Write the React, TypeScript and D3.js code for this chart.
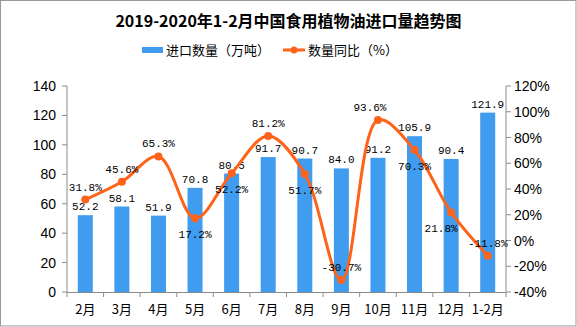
import React from "react";
import * as d3 from "d3";

const categories = ["2月", "3月", "4月", "5月", "6月", "7月", "8月", "9月", "10月", "11月", "12月", "1-2月"];
const importVolume = [52.2, 58.1, 51.9, 70.8, 80.5, 91.7, 90.7, 84.0, 91.2, 105.9, 90.4, 121.9];
const yoyGrowth = [31.8, 45.6, 65.3, 17.2, 52.2, 81.2, 51.7, -30.7, 93.6, 70.3, 21.8, -11.8];
const leftTicks = [0, 20, 40, 60, 80, 100, 120, 140];
const rightTicks = [-40, -20, 0, 20, 40, 60, 80, 100, 120];
const growthLabelSide = ["up", "up", "up", "down", "down", "up", "down", "up", "up", "down", "down", "up"];

const W = 577;
const H = 327;
const left = 67;
const right = 506;
const top = 86;
const bottom = 292;
const BLUE = "#3F9CEE";
const ORANGE = "#FF6219";
const AXIS = "#8c8c8c";
const LABEL_FONT = "'Liberation Mono', 'DejaVu Sans Mono', monospace";
const CJK = "'Noto Sans CJK SC', sans-serif";

export default function App() {
  const x = d3.scaleBand<string>().domain(categories).range([left, right]).paddingInner(0.59).paddingOuter(0.295);
  const step = (right - left) / categories.length;
  const yL = d3.scaleLinear().domain([0, 140]).range([bottom, top]);
  const yR = d3.scaleLinear().domain([-40, 120]).range([bottom, top]);
  const cx = (c: string) => (x(c) as number) + x.bandwidth() / 2;
  const pts: [number, number][] = categories.map((c, i) => [cx(c), yR(yoyGrowth[i])]);
  const line = d3.line().curve(d3.curveCatmullRom.alpha(0.5))(pts) as string;

  return (
    <div style={{ position: "fixed", left: 0, top: 0 }}>
      <svg width={W} height={H} style={{ display: "block", background: "#fff" }}>
        <rect x={0.5} y={0.5} width={W - 1.5} height={H - 1.5} fill="#fff" stroke="#999" />
        <text x={W / 2} y={27} textAnchor="middle" fontFamily={CJK} fontWeight="bold" fontSize={16} fill="#000">
          2019-2020年1-2月中国食用植物油进口量趋势图
        </text>
        {/* legend */}
        <rect x={142} y={47} width={21} height={6} fill={BLUE} />
        <text x={166} y={55} fontFamily={CJK} fontSize={13} fill="#000">进口数量（万吨）</text>
        <line x1={283} x2={305} y1={50} y2={50} stroke={ORANGE} strokeWidth={3} />
        <circle cx={294} cy={50} r={3.5} fill={ORANGE} />
        <text x={308} y={55} fontFamily={CJK} fontSize={13} fill="#000">数量同比（%）</text>

        {/* axes */}
        <line x1={left} x2={left} y1={top} y2={bottom} stroke={AXIS} />
        <line x1={right} x2={right} y1={top} y2={bottom} stroke={AXIS} />
        <line x1={left} x2={right} y1={bottom + 0.5} y2={bottom + 0.5} stroke={AXIS} />
        {leftTicks.map((t) => (
          <g key={"l" + t}>
            <line x1={left - 5} x2={left} y1={yL(t)} y2={yL(t)} stroke={AXIS} />
            <text x={56} y={yL(t) + 5} textAnchor="end" fontFamily="'Liberation Sans', sans-serif" fontSize={14} fill="#000">{t}</text>
          </g>
        ))}
        {rightTicks.map((t) => (
          <g key={"r" + t}>
            <line x1={right} x2={right + 5} y1={yR(t)} y2={yR(t)} stroke={AXIS} />
            <text x={514} y={yR(t) + 5} fontFamily="'Liberation Sans', sans-serif" fontSize={14} fill="#000">{t}%</text>
          </g>
        ))}
        {d3.range(categories.length + 1).map((i) => (
          <line key={"xt" + i} x1={left + i * step} x2={left + i * step} y1={bottom} y2={bottom + 5} stroke={AXIS} />
        ))}
        {categories.map((c) => (
          <text key={"c" + c} x={cx(c)} y={314} textAnchor="middle" fontFamily={CJK} fontSize={13} fill="#000">{c}</text>
        ))}

        {/* bars */}
        {categories.map((c, i) => (
          <rect key={"b" + c} x={x(c)} y={yL(importVolume[i])} width={x.bandwidth()} height={bottom - yL(importVolume[i])} fill={BLUE} />
        ))}
        {categories.map((c, i) => (
          <text key={"bv" + c} x={cx(c)} y={yL(importVolume[i]) - 5} textAnchor="middle" fontFamily={LABEL_FONT} fontSize={11} fill="#000">
            {importVolume[i].toFixed(1)}
          </text>
        ))}

        {/* line */}
        <path d={line} fill="none" stroke={ORANGE} strokeWidth={3} />
        {pts.map(([px, py], i) => (
          <circle key={"p" + i} cx={px} cy={py} r={4} fill={ORANGE} />
        ))}
        {pts.map(([px, py], i) => (
          <text key={"pv" + i} x={px - (i === 8 ? 8 : i === 10 ? 10 : 0)} y={growthLabelSide[i] === "up" ? py - 9 : py + 20} textAnchor="middle" fontFamily={LABEL_FONT} fontSize={11} fill="#000">
            {yoyGrowth[i].toFixed(1)}%
          </text>
        ))}
      </svg>
    </div>
  );
}
